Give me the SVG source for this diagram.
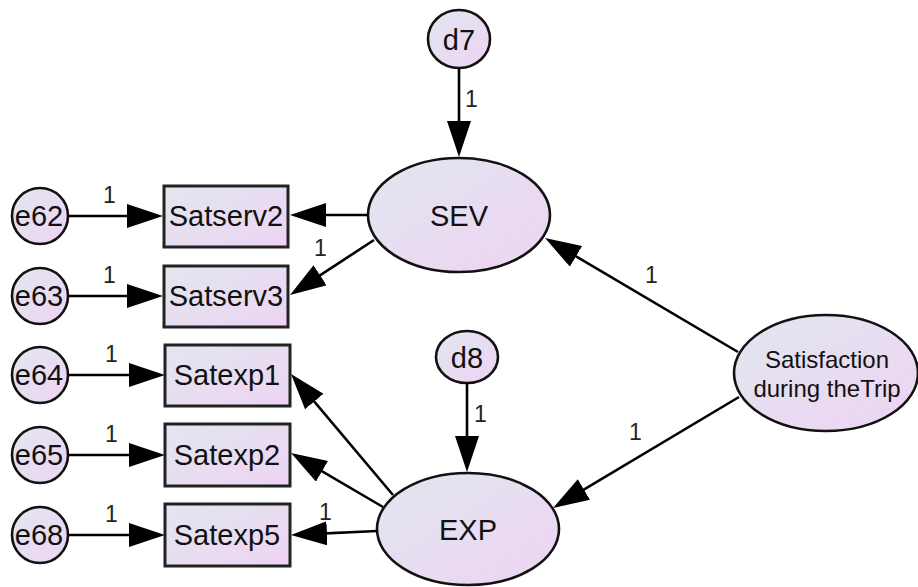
<svg xmlns="http://www.w3.org/2000/svg" width="918" height="587" viewBox="0 0 918 587">
  <defs>
    <linearGradient id="fillGrad" x1="0" y1="0" x2="1" y2="1">
      <stop offset="0" stop-color="#e1e7ef"/>
      <stop offset="1" stop-color="#eed3f3"/>
    </linearGradient>
    <marker id="arrow" markerUnits="userSpaceOnUse" markerWidth="36" markerHeight="24" refX="28" refY="12" orient="auto">
      <path d="M0,0 L36,12 L0,24 z" fill="#000"/>
    </marker>
    <style>
      .node { fill: url(#fillGrad); stroke: #111; stroke-width: 2.6; }
      .box { fill: url(#fillGrad); stroke: #222; stroke-width: 3; }
      .lbl { font-family: "Liberation Sans", Arial, sans-serif; font-size: 29px; fill: #111; text-anchor: middle; }
      .small { font-family: "Liberation Sans", Arial, sans-serif; font-size: 24px; fill: #111; text-anchor: middle; }
      .w { font-family: "Liberation Sans", Arial, sans-serif; font-size: 23px; fill: #222; }
      .edge { stroke: #000; stroke-width: 2.6; fill: none; marker-end: url(#arrow); }
    </style>
  </defs>
  <rect width="918" height="587" fill="#fff"/>

  <!-- latent factors -->
  <g id="SEV"><ellipse class="node" cx="459" cy="215" rx="91" ry="57"/><text class="lbl" x="459" y="226">SEV</text></g>
  <g id="EXP"><ellipse class="node" cx="468" cy="529" rx="91" ry="56"/><text class="lbl" x="468" y="540">EXP</text></g>
  <g id="SatTrip"><ellipse class="node" cx="826" cy="373" rx="92" ry="58"/>
    <text class="small" x="827" y="368">Satisfaction</text>
    <text class="small" x="827" y="397">during theTrip</text></g>

  <!-- disturbances -->
  <g id="d7"><ellipse class="node" cx="459" cy="39" rx="31" ry="29"/><text class="lbl" x="459" y="50">d7</text></g>
  <g id="d8"><ellipse class="node" cx="467" cy="357" rx="31" ry="26"/><text class="lbl" x="467" y="368">d8</text></g>

  <!-- observed indicators -->
  <g id="Satserv2"><rect class="box" x="164" y="186" width="124" height="61"/><text class="lbl" x="226" y="226">Satserv2</text></g>
  <g id="Satserv3"><rect class="box" x="164" y="266" width="124" height="61"/><text class="lbl" x="226" y="306">Satserv3</text></g>
  <g id="Satexp1"><rect class="box" x="165" y="345" width="125" height="61"/><text class="lbl" x="227" y="385">Satexp1</text></g>
  <g id="Satexp2"><rect class="box" x="165" y="424" width="125" height="62"/><text class="lbl" x="227" y="465">Satexp2</text></g>
  <g id="Satexp5"><rect class="box" x="165" y="504" width="125" height="62"/><text class="lbl" x="227" y="545">Satexp5</text></g>

  <!-- measurement errors -->
  <g id="e62"><circle class="node" cx="40" cy="216" r="28"/><text class="lbl" x="39" y="226">e62</text></g>
  <g id="e63"><circle class="node" cx="40" cy="296" r="28"/><text class="lbl" x="39" y="306">e63</text></g>
  <g id="e64"><circle class="node" cx="40" cy="375" r="28"/><text class="lbl" x="39" y="385">e64</text></g>
  <g id="e65"><circle class="node" cx="40" cy="455" r="28"/><text class="lbl" x="39" y="465">e65</text></g>
  <g id="e68"><circle class="node" cx="40" cy="535" r="28"/><text class="lbl" x="39" y="545">e68</text></g>

  <!-- paths -->
  <g id="connectors">
    <line class="edge" x1="68" y1="216" x2="155" y2="216"/>
    <line class="edge" x1="68" y1="296" x2="155" y2="296"/>
    <line class="edge" x1="68" y1="375" x2="157" y2="375"/>
    <line class="edge" x1="68" y1="455" x2="157" y2="455"/>
    <line class="edge" x1="68" y1="535" x2="157" y2="535"/>
    <line class="edge" x1="368" y1="215" x2="298" y2="215"/>
    <line class="edge" x1="374" y1="240" x2="296.7" y2="290.6"/>
    <line class="edge" x1="393" y1="495" x2="296.2" y2="380.1"/>
    <line class="edge" x1="383" y1="507" x2="297.9" y2="457.1"/>
    <line class="edge" x1="377" y1="531" x2="299" y2="534.6"/>
    <line class="edge" x1="459" y1="68" x2="459" y2="149"/>
    <line class="edge" x1="467" y1="383" x2="467" y2="464"/>
    <line class="edge" x1="738" y1="352" x2="551.9" y2="242.1"/>
    <line class="edge" x1="739" y1="397" x2="559.9" y2="503.9"/>

    <text class="w" x="103" y="203">1</text>
    <text class="w" x="103" y="283">1</text>
    <text class="w" x="105" y="362">1</text>
    <text class="w" x="105" y="442">1</text>
    <text class="w" x="105" y="522">1</text>
    <text class="w" x="314" y="256">1</text>
    <text class="w" x="319" y="520">1</text>
    <text class="w" x="465" y="107">1</text>
    <text class="w" x="474" y="422">1</text>
    <text class="w" x="645" y="283">1</text>
    <text class="w" x="629" y="440">1</text>
  </g>
</svg>
